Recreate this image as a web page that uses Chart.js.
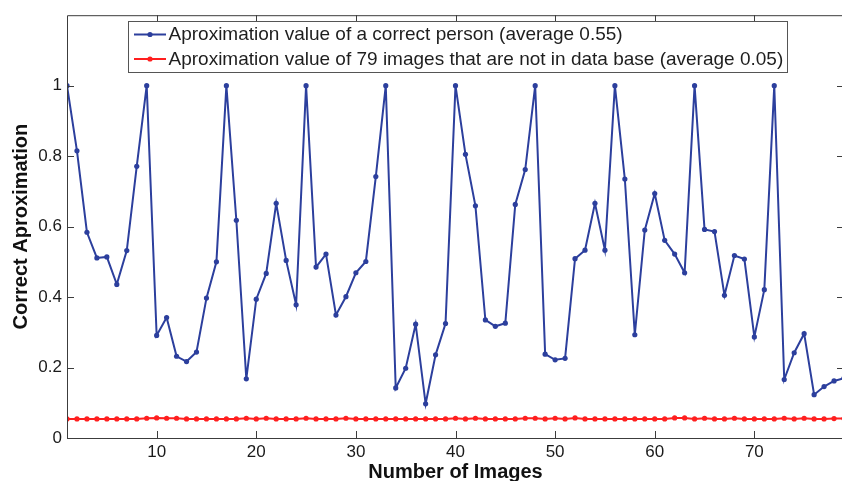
<!DOCTYPE html>
<html>
<head>
<meta charset="utf-8">
<script src="https://cdn.jsdelivr.net/npm/chart.js@4/dist/chart.umd.min.js"></script>
<style>
	html, body { margin: 0; padding: 0; background: #fff; overflow: hidden; }
	canvas { display: block; }
</style>
</head>
<body>
<canvas id="chart" width="848" height="481"></canvas>
<script>
// image index (x axis)
const imageNumbers = Array.from({ length: 79 }, (_, i) => i + 1);

// approximation value of a correct person
const correctValues = [
	1.0, 0.815, 0.584, 0.511, 0.514, 0.436, 0.532, 0.771, 1.0, 0.291,
	0.342, 0.232, 0.217, 0.244, 0.397, 0.500, 1.0, 0.618, 0.168, 0.394,
	0.467, 0.666, 0.504, 0.378, 1.0, 0.485, 0.522, 0.349, 0.401, 0.469,
	0.501, 0.742, 1.0, 0.142, 0.198, 0.323, 0.097, 0.236, 0.325, 1.0,
	0.805, 0.659, 0.335, 0.317, 0.326, 0.663, 0.762, 1.0, 0.238, 0.222,
	0.226, 0.509, 0.533, 0.666, 0.533, 1.0, 0.735, 0.293, 0.590, 0.694,
	0.561, 0.522, 0.469, 1.0, 0.592, 0.586, 0.405, 0.518, 0.508, 0.287,
	0.421, 1.0, 0.166, 0.242, 0.296, 0.123, 0.146, 0.162, 0.170,
];

// approximation value of images not in the data base
const unknownValues = [
	0.054, 0.054, 0.054, 0.054, 0.054, 0.054, 0.054, 0.054, 0.056, 0.057,
	0.056, 0.056, 0.054, 0.054, 0.054, 0.054, 0.054, 0.054, 0.056, 0.054,
	0.056, 0.054, 0.054, 0.054, 0.056, 0.054, 0.054, 0.054, 0.056, 0.054,
	0.054, 0.054, 0.054, 0.054, 0.054, 0.054, 0.054, 0.054, 0.054, 0.056,
	0.054, 0.056, 0.054, 0.054, 0.054, 0.054, 0.056, 0.056, 0.054, 0.056,
	0.054, 0.057, 0.054, 0.054, 0.054, 0.054, 0.054, 0.054, 0.054, 0.054,
	0.054, 0.057, 0.057, 0.054, 0.056, 0.054, 0.054, 0.056, 0.054, 0.054,
	0.054, 0.054, 0.056, 0.054, 0.056, 0.054, 0.054, 0.055, 0.055,
];

const seriesLabels = [
	'Aproximation value of a correct person (average 0.55)',
	'Aproximation value of 79 images that are not in data base (average 0.05)',
];

const xTicks = [10, 20, 30, 40, 50, 60, 70];
const yTicks = [0, 0.2, 0.4, 0.6, 0.8, 1];

const BLUE = '#2c3f9d';
const RED = '#ff1f1f';
const AXIS = '#3c3c3c';
const FONT = "'Liberation Sans', Arial, sans-serif";

// MATLAB-ish box with inward ticks, plus the framed legend
const matlabFrame = {
	id: 'matlabFrame',
	afterDraw(chart) {
		const { ctx, chartArea: a, scales: { x, y } } = chart;
		const t = 7;
		ctx.save();
		ctx.strokeStyle = AXIS;
		ctx.lineWidth = 1;
		ctx.beginPath();
		ctx.rect(a.left + 0.5, a.top + 0.5, a.right - a.left, a.bottom - a.top);
		xTicks.forEach(v => {
			const px = Math.round(x.getPixelForValue(v)) + 0.5;
			ctx.moveTo(px, a.bottom); ctx.lineTo(px, a.bottom - t);
			ctx.moveTo(px, a.top); ctx.lineTo(px, a.top + t);
		});
		yTicks.forEach(v => {
			const py = Math.round(y.getPixelForValue(v)) + 0.5;
			ctx.moveTo(a.left, py); ctx.lineTo(a.left + t, py);
			ctx.moveTo(a.right, py); ctx.lineTo(a.right - t, py);
		});
		ctx.stroke();

		// legend
		const box = { left: 128, top: 21, right: 787, bottom: 72 };
		ctx.fillStyle = '#fff';
		ctx.fillRect(box.left, box.top, box.right - box.left, box.bottom - box.top);
		ctx.strokeStyle = '#555';
		ctx.strokeRect(box.left + 0.5, box.top + 0.5, box.right - box.left, box.bottom - box.top);
		const rows = [34.5, 59];
		chart.data.datasets.forEach((ds, i) => {
			const ry = rows[i];
			ctx.strokeStyle = ds.borderColor;
			ctx.lineWidth = 2;
			ctx.beginPath();
			ctx.moveTo(134, ry); ctx.lineTo(166, ry);
			ctx.stroke();
			ctx.fillStyle = ds.borderColor;
			ctx.beginPath();
			ctx.arc(150, ry, 2.6, 0, Math.PI * 2);
			ctx.fill();
			ctx.fillStyle = '#1e1e1e';
			ctx.font = '19px ' + FONT;
			ctx.textBaseline = 'middle';
			ctx.textAlign = 'left';
			ctx.fillText(ds.label, 168.5, ry + 0.5);
		});
		ctx.restore();
	}
};

const ctx = document.getElementById('chart').getContext('2d');
new Chart(ctx, {
	type: 'line',
	data: {
		datasets: [
			{
				label: seriesLabels[0],
				data: imageNumbers.map((n, i) => ({ x: n, y: correctValues[i] })),
				borderColor: BLUE,
				backgroundColor: BLUE,
				borderWidth: 2,
				pointRadius: 2.6,
				pointBorderWidth: 0,
				tension: 0,
			},
			{
				label: seriesLabels[1],
				data: imageNumbers.map((n, i) => ({ x: n, y: unknownValues[i] })),
				borderColor: RED,
				backgroundColor: RED,
				borderWidth: 2,
				pointRadius: 2.6,
				pointBorderWidth: 0,
				tension: 0,
			},
		],
	},
	options: {
		responsive: false,
		animation: false,
		devicePixelRatio: 1,
		layout: { padding: { top: 13, right: 1, left: 0, bottom: 0 } },
		plugins: {
			legend: { display: false },
			tooltip: { enabled: false },
		},
		scales: {
			x: {
				type: 'linear',
				min: 1,
				max: 79,
				afterBuildTicks: s => { s.ticks = xTicks.map(v => ({ value: v })); },
				afterFit: s => { s.height = 43; },
				grid: { display: false, drawTicks: false },
				border: { display: false },
				ticks: {
					autoSkip: false,
					maxRotation: 0,
					padding: 4,
					color: '#1a1a1a',
					font: { family: FONT, size: 17 },
					callback: v => String(v),
				},
				title: {
					display: true,
					text: 'Number of Images',
					color: '#111',
					font: { family: FONT, size: 20, weight: 'bold', lineHeight: 0.9 },
					padding: { top: 0, bottom: 0 },
				},
			},
			y: {
				min: 0,
				max: 1.2,
				afterBuildTicks: s => { s.ticks = yTicks.map(v => ({ value: v })); },
				afterFit: s => { s.width = 67; },
				grid: { display: false, drawTicks: false },
				border: { display: false },
				ticks: {
					padding: 5,
					color: '#1a1a1a',
					font: { family: FONT, size: 17 },
					callback: v => String(Math.round(v * 10) / 10),
				},
				title: {
					display: true,
					text: 'Correct Aproximation',
					color: '#111',
					font: { family: FONT, size: 20, weight: 'bold', lineHeight: 1.2 },
					padding: { top: 9, bottom: 0 },
				},
			},
		},
	},
	plugins: [matlabFrame],
});
</script>
</body>
</html>
